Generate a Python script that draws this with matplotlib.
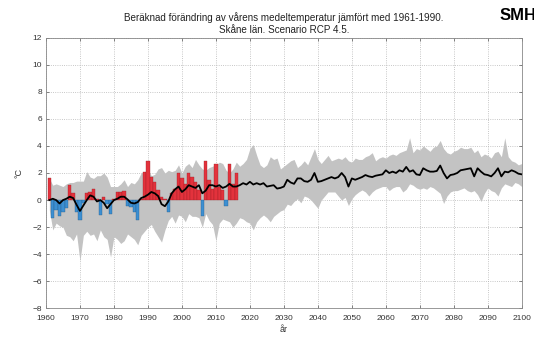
import numpy as np
import matplotlib
matplotlib.use("Agg")
import matplotlib.pyplot as plt

plt.rcParams['font.family'] = ['Liberation Sans', 'DejaVu Sans']

# observerade avvikelser (staplar) 1961-2016
obs_years = list(range(1961, 2017))
obs_anom = [1.6, -1.35, -0.7, -1.2, -0.9, -0.6, 1.1, 0.5, -0.9, -1.5,
            -0.2, 0.5, 0.6, 0.85, 0.1, -1.1, 0.2, -0.3, -1.0, 0.1,
            0.6, 0.6, 0.7, -0.4, -0.5, -0.9, -1.5, 0.1, 2.1, 2.85,
            1.7, 1.35, 0.75, 0.2, 0.1, -0.85, 0.5, 0.85, 2.0, 1.6,
            1.2, 2.0, 1.7, 1.35, 0.75, -1.2, 2.85, 1.5, 0.85, 2.7,
            1.0, 0.75, -0.4, 2.7, 1.2, 2.0]

# scenario 1961-2100: medelvärde, övre och nedre gräns
years = list(range(1961, 2101))
mean = [0.0, 0.1, 0.0, -0.25, 0.0, 0.1, 0.25, 0.15, -0.35, -0.8,
        -0.4, 0.0, 0.35, 0.25, -0.1, 0.0, -0.2, -0.6, -0.3, 0.0,
        0.1, 0.25, 0.25, 0.05, -0.2, -0.25, -0.15, 0.15, 0.25, 0.4,
        0.6, 0.5, 0.3, -0.3, -0.45, -0.1, 0.5, 0.8, 1.0, 0.6,
        0.8, 1.1, 1.0, 0.9, 1.1, 0.5, 0.7, 1.1, 1.1, 1.0,
        1.1, 0.9, 1.0, 1.2, 1.0, 1.0, 1.1, 1.25, 1.15, 1.35,
        1.15, 1.25, 1.15, 1.25, 1.0, 1.05, 1.1, 0.85, 0.9, 1.0,
        1.5, 1.3, 1.2, 1.6, 1.6, 1.4, 1.35, 1.5, 2.0, 1.35,
        1.4, 1.5, 1.6, 1.7, 1.6, 1.7, 2.0, 1.7, 1.0, 1.6,
        1.5, 1.6, 1.7, 1.85, 1.75, 1.7, 1.8, 1.85, 1.9, 2.2,
        2.0, 2.1, 2.0, 2.2, 2.1, 2.45, 2.1, 2.2, 1.9, 1.85,
        2.35, 2.2, 2.1, 2.1, 2.15, 2.55, 2.0, 1.6, 1.85, 1.9,
        2.0, 2.2, 2.25, 2.3, 2.35, 1.75, 2.35, 2.1, 1.9, 1.85,
        1.75, 2.0, 2.35, 1.75, 2.1, 2.05, 2.2, 2.1, 1.95, 1.9]
upper = [1.6, 1.1, 1.2, 1.1, 1.0, 1.2, 1.3, 1.3, 1.4, 1.4,
         1.4, 2.1, 1.7, 1.6, 1.8, 1.8, 2.0, 1.7, 1.0, 1.0,
         1.0, 1.2, 1.5, 1.0, 1.3, 1.2, 1.5, 2.0, 2.1, 2.2,
         1.8, 1.9, 2.3, 2.4, 2.0, 2.2, 2.1, 2.2, 2.6, 2.0,
         2.5, 2.7, 2.4, 3.0, 2.6, 2.3, 2.2, 2.4, 2.5, 2.6,
         2.8, 2.7, 2.2, 2.0, 2.3, 2.8, 2.5, 2.7, 3.0, 3.8,
         4.1, 3.3, 2.6, 2.4, 2.6, 3.2, 3.0, 3.1, 2.3, 2.5,
         2.7, 2.9, 3.0, 2.4, 2.6, 2.9, 2.6, 3.2, 3.8, 3.0,
         2.7, 3.0, 3.3, 2.9, 3.0, 3.1, 3.0, 3.2, 2.9, 2.8,
         3.1, 3.0, 3.0, 3.2, 3.3, 3.5, 2.9, 3.1, 3.2, 3.1,
         3.3, 3.4, 3.3, 3.5, 3.6, 3.7, 4.6, 3.5, 3.8, 3.7,
         4.0, 3.8, 3.6, 3.9, 4.0, 4.4, 3.8, 3.5, 3.4, 3.6,
         3.7, 3.9, 3.8, 3.8, 3.9, 3.5, 3.7, 3.2, 3.4, 3.3,
         3.1, 3.5, 3.6, 3.2, 4.6, 3.2, 2.9, 2.8, 2.6, 2.7]
lower = [-0.75, -2.2, -1.7, -1.9, -2.0, -2.6, -2.7, -3.0, -2.5, -4.5,
         -2.6, -2.3, -2.6, -2.5, -3.0, -2.2, -2.7, -2.9, -4.2, -2.7,
         -2.9, -3.2, -3.0, -2.5, -2.7, -2.9, -3.3, -2.6, -2.3, -2.0,
         -1.8, -2.3, -2.7, -3.1, -2.2, -1.5, -1.2, -1.7, -1.1, -1.2,
         -1.6, -1.0, -1.2, -1.2, -1.3, -2.0, -1.0, -1.5, -1.8, -3.0,
         -1.7, -1.4, -1.5, -1.6, -2.0, -1.7, -1.3, -1.4, -1.6, -1.7,
         -2.2, -1.6, -1.3, -1.1, -1.3, -1.6, -1.2, -1.0, -0.8, -0.7,
         -0.3, -0.4, -0.1, 0.1, -0.2, 0.3, 0.2, 0.0, -0.3, -0.6,
         0.0, 0.3, 0.6, 0.6, 0.6, 0.3, 0.0, 0.2, -0.4, 0.1,
         0.4, 0.6, 0.75, 0.6, 0.3, 0.6, 0.8, 0.9, 1.0, 1.0,
         0.7, 0.9, 1.0, 1.0, 0.6, 0.8, 1.2, 1.1, 0.9, 0.8,
         0.9, 0.8, 1.0, 0.9, 0.7, 0.5, -0.25, 0.3, 0.6, 0.7,
         0.7, 0.8, 0.9, 0.7, 0.6, 0.7, 0.4, -0.1, 0.5, 0.9,
         0.7, 0.6, 0.3, 0.9, 1.2, 1.1, 1.0, 1.3, 1.2, 1.0]

xticks = list(range(1960, 2101, 10))
yticks = list(range(-8, 13, 2))

fig = plt.figure(figsize=(5.34, 3.37), dpi=100)
ax = fig.add_axes([0.0861, 0.0846, 0.891, 0.8041])

ax.fill_between(years, lower, upper, color='#c3c3c3', lw=0, zorder=1)

cols = ['#e3323c' if v >= 0 else '#3c8fd2' for v in obs_anom]
edges = ['#9a2026' if v >= 0 else '#245a86' for v in obs_anom]
ax.bar(obs_years, obs_anom, width=1.0, color=cols, edgecolor=edges,
       linewidth=0.25, zorder=2)

ax.plot(years, mean, color='black', lw=1.3, zorder=3)

ax.set_xlim(1960, 2100)
ax.set_ylim(-8, 12)
ax.set_xticks(xticks)
ax.set_yticks(yticks)
ax.grid(True, linestyle=':', color='#b5b5b5', lw=0.6)
ax.set_axisbelow(True)
ax.tick_params(direction='in', length=2.5, width=0.5, labelsize=6,
               colors='#555555', labelcolor='#333333',
               top=True, right=True)
ax.tick_params(axis='x', pad=5)
ax.tick_params(axis='y', pad=3)
for s in ax.spines.values():
    s.set_color('#888888')
    s.set_linewidth(0.6)

ax.set_xlabel('år', fontsize=6.5, color='#333333', labelpad=2)
ax.set_ylabel('°C', fontsize=6.5, color='#333333', labelpad=6)

fig.text(0.532, 0.947, 'Beräknad förändring av vårens medeltemperatur jämfört med 1961-1990.',
         ha='center', va='center', fontsize=7.1, color='#222222')
fig.text(0.532, 0.912, 'Skåne län. Scenario RCP 4.5.',
         ha='center', va='center', fontsize=7.1, color='#222222')
fig.text(0.936, 0.955, 'SMHI', ha='left', va='center', fontsize=12,
         fontweight='bold', color='black')

fig.savefig('out.png', dpi=100)
